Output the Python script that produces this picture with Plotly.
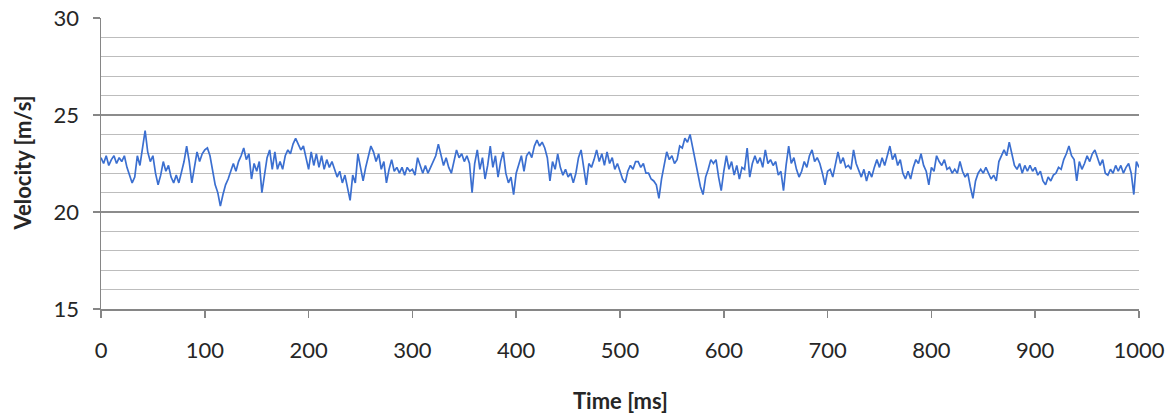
import plotly.graph_objects as go

time_step = 2.5

velocity = [
    # 0 - 97.5 ms
    22.8, 22.5, 22.9, 22.4, 22.7, 22.9, 22.5, 22.8, 22.6, 22.9,
    22.3, 21.9, 21.5, 21.8, 22.9, 22.4, 23.4, 24.2, 23.1, 22.6,
    22.9, 22.0, 21.4, 21.9, 22.6, 22.1, 22.4, 21.8, 21.5, 21.9,
    21.5, 22.0, 22.6, 23.4, 22.6, 21.5, 22.3, 23.1, 22.6, 23.0,
    # 100 - 197.5 ms
    23.2, 23.3, 22.9, 22.1, 21.4, 21.0, 20.3, 20.9, 21.4, 21.7,
    22.1, 22.5, 22.1, 22.6, 22.9, 23.3, 22.7, 23.0, 21.7, 22.5,
    22.1, 22.6, 21.0, 22.0, 22.8, 23.2, 22.2, 23.1, 22.2, 22.6,
    22.2, 22.9, 23.2, 23.0, 23.5, 23.8, 23.5, 23.2, 23.4, 22.8,
    # 200 - 297.5 ms
    22.2, 23.1, 22.4, 23.0, 22.3, 22.9, 22.2, 22.7, 22.3, 22.6,
    22.2, 21.8, 22.1, 21.5, 21.9, 21.3, 20.6, 21.9, 21.5, 23.0,
    22.2, 21.6, 22.3, 22.8, 23.4, 23.1, 22.6, 23.0, 22.2, 22.6,
    21.5, 22.2, 22.7, 22.1, 22.3, 22.0, 22.3, 21.9, 22.3, 22.1,
    # 300 - 397.5 ms
    22.2, 21.9, 22.8, 22.4, 22.0, 22.4, 22.0, 22.3, 22.6, 22.9,
    23.5, 22.9, 22.4, 22.8, 22.3, 22.0, 22.6, 23.2, 22.8, 23.0,
    22.6, 22.9, 22.5, 21.0, 22.5, 23.2, 22.2, 22.8, 21.7, 22.4,
    23.4, 22.3, 22.9, 21.8, 22.6, 23.1, 22.0, 21.5, 21.8, 20.9,
    # 400 - 497.5 ms
    22.0, 22.5, 22.9, 22.1, 22.9, 23.1, 22.8, 23.4, 23.7, 23.4,
    23.6, 23.3, 22.8, 21.6, 22.6, 22.2, 23.0, 22.3, 21.9, 22.2,
    21.8, 22.0, 21.5, 22.0, 22.8, 23.2, 22.4, 21.4, 22.5, 22.3,
    22.7, 23.2, 22.6, 23.0, 22.4, 23.1, 22.5, 22.8, 22.2, 22.5,
    # 500 - 597.5 ms
    22.1, 21.7, 21.5, 22.1, 22.4, 22.2, 22.6, 22.6, 22.3, 22.5,
    22.0, 22.0, 21.7, 21.6, 21.4, 20.7, 21.7, 22.4, 23.1, 22.7,
    22.9, 22.5, 22.7, 23.4, 23.3, 23.8, 23.6, 24.0, 23.3, 22.6,
    22.0, 21.3, 20.9, 21.8, 22.2, 22.7, 22.5, 22.7, 21.8, 21.1,
    # 600 - 697.5 ms
    22.1, 22.9, 22.2, 22.6, 21.9, 22.4, 21.7, 22.3, 22.2, 23.3,
    21.8, 22.5, 22.9, 22.5, 22.8, 22.3, 23.2, 22.5, 22.7, 22.4,
    22.6, 21.9, 22.1, 21.1, 22.4, 23.4, 22.5, 22.8, 22.2, 21.8,
    22.1, 22.6, 22.3, 22.9, 23.2, 22.6, 22.8, 22.5, 22.0, 21.4,
    # 700 - 797.5 ms
    22.1, 22.2, 21.8, 22.4, 23.1, 22.5, 22.8, 22.3, 22.4, 22.2,
    23.2, 22.5, 22.1, 21.8, 22.2, 21.6, 22.1, 21.8, 22.3, 22.7,
    22.3, 22.8, 22.4, 22.9, 23.4, 22.7, 23.0, 22.4, 22.7, 22.0,
    21.7, 22.1, 21.7, 22.3, 22.7, 22.5, 23.0, 22.4, 22.1, 21.4,
    # 800 - 897.5 ms
    22.3, 22.1, 22.9, 22.6, 22.4, 22.7, 22.2, 22.3, 22.0, 22.2,
    22.0, 22.6, 22.1, 21.8, 22.0, 21.3, 20.7, 21.6, 22.0, 22.2,
    22.0, 22.3, 22.0, 21.7, 21.9, 21.6, 22.6, 22.9, 23.2, 22.9,
    23.6, 23.0, 22.4, 22.2, 22.5, 22.0, 22.4, 22.1, 22.4, 22.1,
    # 900 - 1000 ms
    22.3, 21.9, 22.1, 21.6, 21.4, 21.8, 21.6, 21.9, 22.0, 22.3,
    22.2, 22.7, 23.0, 23.4, 22.9, 22.7, 21.6, 22.6, 22.2, 22.5,
    22.9, 22.6, 23.0, 23.2, 22.8, 22.4, 22.7, 22.0, 21.9, 22.2,
    22.0, 22.4, 22.1, 22.4, 22.0, 22.3, 22.5, 22.0, 20.9, 22.6,
    22.3,
]

time_ms = [i * time_step for i in range(len(velocity))]

x_ticks = [0, 100, 200, 300, 400, 500, 600, 700, 800, 900, 1000]
y_ticks = [15, 20, 25, 30]

x_title = "Time [ms]"
y_title = "Velocity [m/s]"

font_family = "Lato, 'Open Sans', sans-serif"
text_color = "#262626"
axis_color = "#868686"

fig = go.Figure()
fig.add_trace(go.Scatter(
    x=time_ms, y=velocity, mode="lines",
    line=dict(color="#3B6FD0", width=1.7),
    showlegend=False, hoverinfo="skip",
))

fig.update_layout(
    width=1173, height=414,
    margin=dict(l=101, r=34, t=18, b=105),
    paper_bgcolor="white", plot_bgcolor="white",
    font=dict(family=font_family, size=22, color=text_color),
    annotations=[
        dict(text="<b>" + x_title + "</b>", xref="paper", yref="paper",
             x=0.5, y=-0.313, xanchor="center", yanchor="middle",
             showarrow=False, font=dict(size=22, color=text_color)),
        dict(text="<b>" + y_title + "</b>", xref="paper", yref="paper",
             x=-0.076, y=0.5, xanchor="center", yanchor="middle",
             textangle=-90, showarrow=False,
             font=dict(size=22, color=text_color)),
    ],
)

fig.update_xaxes(
    range=[0, 1000], tickvals=x_ticks, showgrid=False, automargin=False,
    showline=True, linecolor=axis_color, linewidth=1.5,
    ticks="outside", ticklen=7, tickcolor=axis_color, tickwidth=1.5,
    ticklabelstandoff=14, ticklabeloverflow="allow",
    tickfont=dict(size=22, color=text_color),
    zeroline=False,
)

fig.update_yaxes(
    range=[15, 30], tickvals=y_ticks, automargin=False,
    showgrid=True, gridcolor="#8c8c8c", gridwidth=1.2,
    minor=dict(dtick=1, showgrid=True, gridcolor="#bdbdbd", gridwidth=1.2, ticks=""),
    showline=True, linecolor=axis_color, linewidth=1.5,
    ticks="outside", ticklen=7, tickcolor=axis_color, tickwidth=1.5,
    ticklabelstandoff=9, ticklabeloverflow="allow",
    tickfont=dict(size=22, color=text_color),
    zeroline=False,
)

# remove the browser's default 8 px page margin so the figure fills the window
fig.write_html(
    "out.html",
    config={"displayModeBar": False, "staticPlot": True},
    post_script="document.body.style.margin='0';document.body.style.overflow='hidden';",
)
